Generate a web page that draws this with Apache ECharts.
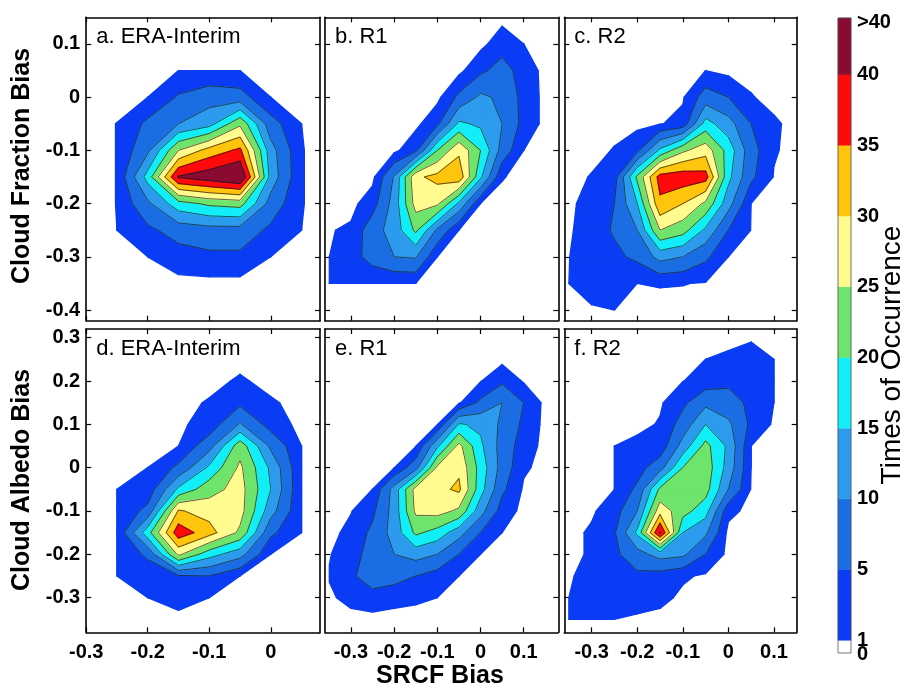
<!DOCTYPE html>
<html>
<head>
<meta charset="utf-8">
<script src="https://cdn.jsdelivr.net/npm/echarts@6/dist/echarts.min.js"></script>
<style>
html,body{margin:0;padding:0;background:#fff;}
#chart{width:904px;height:688px;}
</style>
</head>
<body>
<div id="chart"></div>
<script>
// Bin centres of the joint histograms: SRCF bias (x) and cloud fraction / albedo bias (y)
const xNodes = [-0.35, -0.30, -0.25, -0.20, -0.15, -0.10, -0.05, 0.00, 0.05, 0.10, 0.15];
const yNodes = [0.30, 0.25, 0.20, 0.15, 0.10, 0.05, 0.00, -0.05, -0.10, -0.15, -0.20, -0.25, -0.30, -0.35, -0.40];

// Contour levels (times of occurrence)
const levels = [1, 5, 10, 15, 20, 25, 30, 35, 40];
const colorbarLabels = ['0', '1', '5', '10', '15', '20', '25', '30', '35', '40', '>40'];

// Tick labels
const xTicksEra = [-0.3, -0.2, -0.1, 0];
const xTicksR = [-0.3, -0.2, -0.1, 0, 0.1];
const yTicksFraction = [-0.4, -0.3, -0.2, -0.1, 0, 0.1];
const yTicksAlbedo = [-0.3, -0.2, -0.1, 0, 0.1, 0.2, 0.3];

// Times of occurrence, rows from y = 0.30 (top) to y = -0.40 (bottom), columns x = -0.35 .. 0.15
const fractionEraInterim = [
  [0, 0, 0, 0, 0, 0, 0, 0, 0, 0, 0],
  [0, 0, 0, 0, 0, 0, 0, 0, 0, 0, 0],
  [0, 0, 0, 0, 0, 0, 0, 0, 0, 0, 0],
  [0, 0, 0, 0, 0, 0, 0, 0, 0, 0, 0],
  [0, 0, 0, 0, 0, 0, 0, 0, 0, 0, 0],
  [0, 0, 0, 0, 1, 1, 1, 0, 0, 0, 0],
  [0, 0, 0, 1, 5.5, 8, 7, 1, 0, 0, 0],
  [0, 0, 1.05, 6, 10, 13, 24, 7, 1, 0, 0],
  [0, 0, 1.05, 9, 25, 32, 36, 12, 1.1, 0, 0],
  [0, 0, 1.05, 17, 40.5, 43, 46, 13, 1.1, 0, 0],
  [0, 0, 1.05, 9, 18, 21, 22, 8, 1.1, 0, 0],
  [0, 0, 1, 4, 7, 8, 8, 4, 1, 0, 0],
  [0, 0, 0, 1, 3, 4, 4, 1, 0, 0, 0],
  [0, 0, 0, 0, 0, 0, 0, 0, 0, 0, 0],
  [0, 0, 0, 0, 0, 0, 0, 0, 0, 0, 0]
];
const fractionR1 = [
  [0, 0, 0, 0, 0, 0, 0, 0, 0, 0, 0],
  [0, 0, 0, 0, 0, 0, 0, 0, 0, 0, 0],
  [0, 0, 0, 0, 0, 0, 0, 0, 0, 0, 0],
  [0, 0, 0, 0, 0, 0, 0, 0, 0, 0, 0],
  [0, 0, 0, 0, 0, 0, 0, 0, 3, 1, 0],
  [0, 0, 0, 0, 0, 0, 0, 4, 7, 3, 0],
  [0, 0, 0, 0, 0, 0, 6, 11, 9, 3.5, 0],
  [0, 0, 0, 0, 0, 4, 16, 14, 10, 3.5, 0],
  [0, 0, 0, 0, 4, 20, 29, 20, 8, 1, 0],
  [0, 0, 0, 10.5, 29, 31.5, 33.5, 16, 1.2, 0, 0],
  [0, 0, 3, 12, 27, 26, 14, 1, 0, 0, 0],
  [0.8, 1.5, 8, 12, 21, 9, 1, 0, 0, 0, 0],
  [1, 3, 7, 10, 10.5, 1, 0, 0, 0, 0, 0],
  [1, 1, 1, 1, 1, 0, 0, 0, 0, 0, 0],
  [0, 0, 0, 0, 0, 0, 0, 0, 0, 0, 0]
];
const fractionR2 = [
  [0, 0, 0, 0, 0, 0, 0, 0, 0, 0, 0],
  [0, 0, 0, 0, 0, 0, 0, 0, 0, 0, 0],
  [0, 0, 0, 0, 0, 0, 0, 0, 0, 0, 0],
  [0, 0, 0, 0, 0, 0, 0, 0, 0, 0, 0],
  [0, 0, 0, 0, 0, 0, 0, 0, 0, 0, 0],
  [0, 0, 0, 0, 0, 0, 1, 0, 0, 0, 0],
  [0, 0, 0, 0, 0, 0.6, 7.25, 5, 1.2, 0, 0],
  [0, 0, 0, 0, 0.8, 2, 17, 12, 5, 1.5, 0],
  [0, 0, 1.2, 4, 16, 24, 28, 18, 7, 1.3, 0],
  [0, 1.2, 3, 21, 37, 38, 37, 16.4, 6, 0.8, 0],
  [0, 3, 5, 15, 34, 30, 24, 12, 1, 0, 0],
  [0.5, 3, 5.5, 10, 25, 22, 14, 5, 0.9, 0, 0],
  [0.9, 3.5, 4, 6, 11.8, 10, 6, 1, 0, 0, 0],
  [1, 3, 2, 1, 1.2, 1.1, 0.8, 0, 0, 0, 0],
  [0, 0.5, 1, 0, 0, 0, 0, 0, 0, 0, 0]
];
const albedoEraInterim = [
  [0, 0, 0, 0, 0, 0, 0, 0, 0, 0, 0],
  [0, 0, 0, 0, 0, 0, 0, 0, 0, 0, 0],
  [0, 0, 0, 0, 0, 0, 1.45, 0, 0, 0, 0],
  [0, 0, 0, 0, 0, 1.3, 4, 1.4, 0, 0, 0],
  [0, 0, 0, 0, 0.5, 2.1, 10.5, 3, 0, 0, 0],
  [0, 0, 0, 0, 1, 8, 23, 9, 1, 0, 0],
  [0, 0, 0, 1, 6, 16, 26, 14, 1, 0, 0],
  [0, 0, 1, 2, 16, 23, 27, 15, 1, 0, 0],
  [0, 0, 1, 6.5, 30.5, 28, 27, 12, 1, 0, 0],
  [0, 0, 1, 18, 38, 32, 24, 6, 1, 0, 0],
  [0, 0, 1, 6, 26, 17, 12, 1, 0, 0, 0],
  [0, 0, 1, 2, 4.5, 5, 1, 0, 0, 0, 0],
  [0, 0, 0, 1, 2.4, 1, 0, 0, 0, 0, 0],
  [0, 0, 0, 0, 0, 0, 0, 0, 0, 0, 0],
  [0, 0, 0, 0, 0, 0, 0, 0, 0, 0, 0]
];
const albedoR1 = [
  [0, 0, 0, 0, 0, 0, 0, 0, 0, 0, 0],
  [0, 0, 0, 0, 0, 0, 0, 0, 0, 0, 0],
  [0, 0, 0, 0, 0, 0, 0, 0.8, 4.2, 0.6, 0],
  [0, 0, 0, 0, 0, 0, 0.5, 6, 10, 5, 0],
  [0, 0, 0, 0, 0, 0.7, 15.5, 14, 9, 4, 0],
  [0, 0, 0, 0, 0.8, 14, 26.5, 16, 8, 2.8, 0],
  [0, 0, 0, 0.9, 8, 26, 29, 18, 8, 1.5, 0],
  [0, 0, 1, 12, 27, 28.5, 31, 17, 6, 0.5, 0],
  [0, 0.8, 4, 12, 26, 27, 24, 12, 3, 0, 0],
  [0, 2, 6, 12, 21, 18, 12, 5, 1, 0, 0],
  [0.8, 3, 7, 10, 12, 10, 5, 1, 0, 0, 0],
  [1.2, 4, 8, 7, 5, 3, 1, 0, 0, 0, 0],
  [0.5, 2, 3, 2, 1.5, 1, 0, 0, 0, 0, 0],
  [0, 0, 0, 0, 0, 0, 0, 0, 0, 0, 0],
  [0, 0, 0, 0, 0, 0, 0, 0, 0, 0, 0]
];
const albedoR2 = [
  [0, 0, 0, 0, 0, 0, 0, 0, 0.5, 0, 0],
  [0, 0, 0, 0, 0, 0, 1, 1.67, 3, 1, 0],
  [0, 0, 0, 0, 0, 0.9, 2.5, 4, 4, 1, 0],
  [0, 0, 0, 0, 0.5, 4, 8.75, 7, 4, 1, 0],
  [0, 0, 0, 0, 1.3, 7, 15, 11, 4, 0.5, 0],
  [0, 0, 1, 2, 2, 12, 21.6, 14, 1, 0, 0],
  [0, 0, 1, 3, 8, 20, 23, 13, 1, 0, 0],
  [0, 0, 1, 6, 21, 23, 22, 10, 0.8, 0, 0],
  [0, 0.5, 3, 10, 28, 22, 17, 2, 0, 0, 0],
  [0, 1.5, 4.5, 16, 40.5, 15, 11, 0, 0, 0, 0],
  [0, 1.5, 4, 8, 12, 11, 5, 0, 0, 0, 0],
  [0.7, 2, 4, 4, 3, 1.5, 0.5, 0, 0, 0, 0],
  [1, 3, 3, 2.5, 2, 0.3, 0, 0, 0, 0, 0],
  [1, 1, 1, 0.5, 0, 0, 0, 0, 0, 0, 0],
  [0, 0, 0, 0, 0, 0, 0, 0, 0, 0, 0]
];

// ---------- styling / layout ----------
const bandColors = ['#0a3cf5', '#1b6de4', '#2c9bee', '#12eef8', '#6ee46c', '#fffb8e', '#ffc40c', '#ff0a0a', '#8a0a32'];
const FONT = 'Arial, "Liberation Sans", Helvetica, sans-serif';

const panels = [
  { title: 'a. ERA-Interim', values: fractionEraInterim, box: [86.2, 17.3, 233.8, 303.4], xr: [-0.30, 0.08], yr: [-0.42, 0.15], xt: xTicksEra, yt: yTicksFraction, xl: false, yl: true },
  { title: 'b. R1', values: fractionR1, box: [325, 17.3, 233.3, 303.4], xr: [-0.36, 0.18], yr: [-0.42, 0.15], xt: xTicksR, yt: yTicksFraction, xl: false, yl: false },
  { title: 'c. R2', values: fractionR2, box: [564.3, 17.3, 232.4, 303.4], xr: [-0.36, 0.15], yr: [-0.42, 0.15], xt: xTicksR, yt: yTicksFraction, xl: false, yl: false },
  { title: 'd. ERA-Interim', values: albedoEraInterim, box: [86.2, 329, 233.8, 303.3], xr: [-0.30, 0.08], yr: [-0.38, 0.32], xt: xTicksEra, yt: yTicksAlbedo, xl: true, yl: true },
  { title: 'e. R1', values: albedoR1, box: [325, 329, 233.3, 303.3], xr: [-0.36, 0.18], yr: [-0.38, 0.32], xt: xTicksR, yt: yTicksAlbedo, xl: true, yl: false },
  { title: 'f. R2', values: albedoR2, box: [564.3, 329, 232.4, 303.3], xr: [-0.36, 0.15], yr: [-0.38, 0.32], xt: xTicksR, yt: yTicksAlbedo, xl: true, yl: false }
];

function fmtTick(v) {
  if (Math.abs(v) < 1e-9) return '0';
  return v.toFixed(1);
}

// Keep the part of a cell polygon where the interpolated value is >= level
function clipAbove(poly, level) {
  const out = [];
  const n = poly.length;
  for (let i = 0; i < n; i++) {
    const a = poly[i], b = poly[(i + 1) % n];
    const ain = a.v >= level, bin = b.v >= level;
    if (ain) out.push(a);
    if (ain !== bin) {
      const t = (level - a.v) / (b.v - a.v);
      out.push({ x: a.x + t * (b.x - a.x), y: a.y + t * (b.y - a.y), v: level, cut: true });
    }
  }
  return out;
}

// Filled contours: one data item per level, painted from the lowest level upwards
function contourRenderer(Z) {
  return function (params, api) {
    const li = api.value(0);
    const level = api.value(1);
    const color = bandColors[li];
    const children = [];
    for (let r = 0; r < yNodes.length - 1; r++) {
      for (let c = 0; c < xNodes.length - 1; c++) {
        const quad = [
          { x: xNodes[c], y: yNodes[r], v: Z[r][c] },
          { x: xNodes[c + 1], y: yNodes[r], v: Z[r][c + 1] },
          { x: xNodes[c + 1], y: yNodes[r + 1], v: Z[r + 1][c + 1] },
          { x: xNodes[c], y: yNodes[r + 1], v: Z[r + 1][c] }
        ];
        if (Math.max(quad[0].v, quad[1].v, quad[2].v, quad[3].v) < level) continue;
        const poly = clipAbove(quad, level);
        if (poly.length < 3) continue;
        const pts = poly.map(p => api.coord([p.x, p.y]));
        children.push({
          type: 'polygon', z2: li,
          shape: { points: pts },
          style: { fill: color, stroke: color, lineWidth: 1.3, lineJoin: 'round' }
        });
        if (li > 0) {
          for (let i = 0; i < poly.length; i++) {
            const p = poly[i], q = poly[(i + 1) % poly.length];
            if (p.cut && q.cut) {
              const P = api.coord([p.x, p.y]), Q = api.coord([q.x, q.y]);
              children.push({
                type: 'line', z2: 100,
                shape: { x1: P[0], y1: P[1], x2: Q[0], y2: Q[1] },
                style: { stroke: '#1a1a1a', lineWidth: 0.7 }
              });
            }
          }
        }
      }
    }
    return { type: 'group', children: children };
  };
}

const grids = [], xAxes = [], yAxes = [], series = [], titles = [];
const axisLineStyle = { show: true, onZero: false, lineStyle: { color: '#000', width: 1.6 } };
const tickStyle = { show: true, inside: true, length: 5, lineStyle: { color: '#000', width: 1.2 } };
const labelStyle = { fontFamily: FONT, fontWeight: 'bold', fontSize: 20, color: '#000' };

panels.forEach((p, i) => {
  grids.push({ left: p.box[0], top: p.box[1], width: p.box[2], height: p.box[3], containLabel: false, show: false });
  xAxes.push({
    type: 'value', gridIndex: i, position: 'bottom', min: p.xr[0], max: p.xr[1],
    axisLine: axisLineStyle, splitLine: { show: false },
    axisTick: Object.assign({ customValues: p.xt }, tickStyle),
    axisLabel: Object.assign({ show: p.xl, customValues: p.xt, margin: 10, formatter: fmtTick }, labelStyle)
  });
  xAxes.push({
    type: 'value', gridIndex: i, position: 'top', min: p.xr[0], max: p.xr[1],
    axisLine: axisLineStyle, splitLine: { show: false },
    axisTick: Object.assign({ customValues: p.xt }, tickStyle),
    axisLabel: { show: false }
  });
  yAxes.push({
    type: 'value', gridIndex: i, position: 'left', min: p.yr[0], max: p.yr[1],
    axisLine: axisLineStyle, splitLine: { show: false },
    axisTick: Object.assign({ customValues: p.yt }, tickStyle),
    axisLabel: Object.assign({ show: p.yl, customValues: p.yt, margin: 6, formatter: fmtTick }, labelStyle)
  });
  yAxes.push({
    type: 'value', gridIndex: i, position: 'right', min: p.yr[0], max: p.yr[1],
    axisLine: axisLineStyle, splitLine: { show: false },
    axisTick: Object.assign({ customValues: p.yt }, tickStyle),
    axisLabel: { show: false }
  });
  series.push({
    type: 'custom', xAxisIndex: 2 * i, yAxisIndex: 2 * i, clip: true, silent: true,
    renderItem: contourRenderer(p.values),
    data: levels.map((L, k) => [k, L])
  });
  titles.push({
    text: p.title, left: p.box[0] + 5, top: p.box[1] + 4,
    textStyle: { fontFamily: FONT, fontWeight: 'normal', fontSize: 22, color: '#000' }
  });
});

// ---------- colour bar ----------
const cbColors = ['#ffffff'].concat(bandColors);
// position of each colour-bar label along the bar (the 0-1 band is drawn short, the >40 band slightly short)
function cbPos(k) {
  if (k === 0) return 0;
  if (k === colorbarLabels.length - 1) return 0.18 + (k - 2) + 0.8;
  return 0.18 + (k - 1);
}
const cbTop = cbPos(colorbarLabels.length - 1);
const cbIndex = panels.length;
grids.push({ left: 838, top: 18, width: 13, height: 635, containLabel: false, show: false });
xAxes.push({ type: 'value', gridIndex: cbIndex, min: 0, max: 1, show: false });
yAxes.push({ type: 'value', gridIndex: cbIndex, min: 0, max: cbTop, show: false });
series.push({
  type: 'custom', xAxisIndex: 2 * panels.length, yAxisIndex: 2 * panels.length, silent: true,
  data: colorbarLabels.slice(0, -1).map((t, k) => [k]),
  renderItem: function (params, api) {
    const k = api.value(0);
    const lo = api.coord([0, cbPos(k)]);
    const hi = api.coord([1, cbPos(k + 1)]);
    return {
      type: 'rect',
      shape: { x: lo[0], y: hi[1], width: hi[0] - lo[0], height: lo[1] - hi[1] },
      style: { fill: cbColors[k], stroke: cbColors[k], lineWidth: 0.5 }
    };
  }
});
series.push({
  type: 'custom', xAxisIndex: 2 * panels.length, yAxisIndex: 2 * panels.length, silent: true,
  data: colorbarLabels.map((t, k) => [k]),
  renderItem: function (params, api) {
    const k = api.value(0);
    const last = colorbarLabels.length - 1;
    const pos = api.coord([1, cbPos(k)]);
    let dy = 0;
    if (k === last) dy = 4;
    if (k === 0) dy = 1;
    const children = [{
      type: 'text',
      style: { x: pos[0] + 6, y: pos[1] + dy, text: colorbarLabels[k], fill: '#000',
        font: 'bold 20px ' + FONT, textAlign: 'left', textVerticalAlign: 'middle' }
    }];
    if (k === 0) {
      const b0 = api.coord([0, 0]);
      const t1 = api.coord([1, cbTop]);
      children.push({
        type: 'rect', z2: 10,
        shape: { x: b0[0], y: t1[1], width: t1[0] - b0[0], height: b0[1] - t1[1] },
        style: { fill: null, stroke: '#555', lineWidth: 0.8 }
      });
    }
    return { type: 'group', children: children };
  }
});

const option = {
  animation: false,
  backgroundColor: '#ffffff',
  title: titles,
  grid: grids,
  xAxis: xAxes,
  yAxis: yAxes,
  series: series,
  graphic: [
    { type: 'text', x: 22, y: 166, rotation: Math.PI / 2,
      style: { text: 'Cloud Fraction Bias', font: 'bold 25px ' + FONT, fill: '#000', textAlign: 'center', textVerticalAlign: 'middle' } },
    { type: 'text', x: 22, y: 480, rotation: Math.PI / 2,
      style: { text: 'Cloud Albedo Bias', font: 'bold 25px ' + FONT, fill: '#000', textAlign: 'center', textVerticalAlign: 'middle' } },
    { type: 'text', x: 440, y: 676,
      style: { text: 'SRCF Bias', font: 'bold 25px ' + FONT, fill: '#000', textAlign: 'center', textVerticalAlign: 'middle' } },
    { type: 'text', x: 892, y: 355, rotation: Math.PI / 2,
      style: { text: 'Times of Occurrence', font: '28px ' + FONT, fill: '#000', textAlign: 'center', textVerticalAlign: 'middle' } }
  ]
};

const chart = echarts.init(document.getElementById('chart'), null, { renderer: 'canvas' });
chart.setOption(option);
</script>
</body>
</html>
